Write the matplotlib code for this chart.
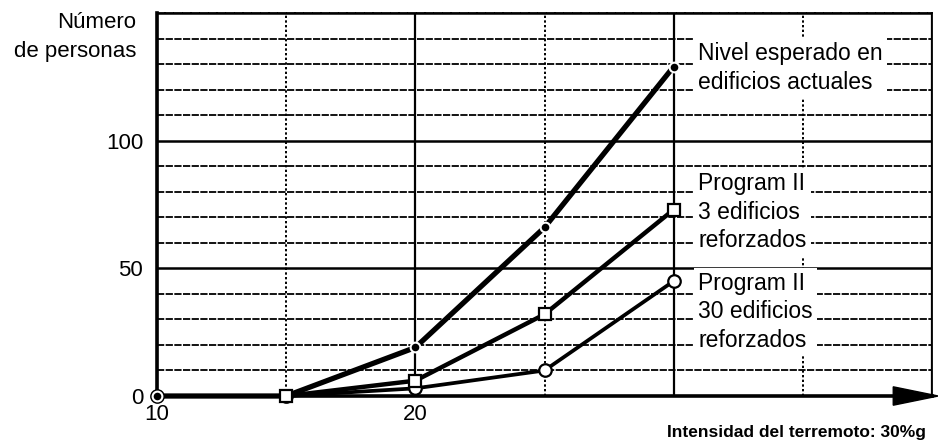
import matplotlib.pyplot as plt
from matplotlib.patches import Polygon

plt.rcParams['font.family'] = ['Liberation Sans', 'DejaVu Sans']

# Data
intensidad = [10, 15, 20, 25, 30]
nivel_actual = [0, 0, 19, 66, 129]
program_3 = [float('nan'), 0, 6, 32, 73]
program_30 = [0, 0, 3, 10, 45]

fig = plt.figure(figsize=(9.38, 4.45), dpi=100)
ax = fig.add_axes([0.1674, 0.1101, 0.8262, 0.8607])

ax.set_xlim(10, 39.75)
ax.set_ylim(0, 150)

# grid: solid majors, dotted minors
ax.set_xticks([10, 20, 30, 40])
ax.set_xticklabels(['10', '20', '', ''])
ax.set_xticks([15, 25, 35], minor=True)
ax.set_yticks([0, 50, 100, 150])
ax.set_yticklabels(['0', '50', '100', ''])
ax.set_yticks([10, 20, 30, 40, 60, 70, 80, 90, 110, 120, 130, 140], minor=True)
ax.tick_params(which='both', length=0, labelsize=16)
ax.tick_params(axis='x', pad=6)
ax.tick_params(axis='y', pad=10)

ax.grid(which='major', axis='x', color='black', lw=1.6, ls='-')
ax.grid(which='minor', axis='x', color='black', lw=1.4, ls=(0, (1.2, 1.2)))
ax.grid(which='major', axis='y', color='black', lw=1.8, ls='-')
ax.grid(which='minor', axis='y', color='black', lw=1.3, ls=(0, (4, 0.8)))
ax.set_axisbelow(True)

for s in ['top', 'right']:
    ax.spines[s].set_linewidth(1.3)
ax.spines['top'].set_linestyle((0, (4, 0.8)))
ax.spines['left'].set_linewidth(2.6)
ax.spines['bottom'].set_linewidth(2.6)

# series
ax.plot(intensidad, program_30, color='black', lw=2.7, marker='o', ms=9,
        mfc='white', mec='black', mew=1.6, zorder=4, clip_on=False)
ax.plot(intensidad, nivel_actual, color='black', lw=3.8, marker='o', ms=7,
        mfc='black', mec='white', mew=1.5, zorder=5, clip_on=False)
ax.plot(intensidad, program_3, color='black', lw=3.2, marker='s', ms=9,
        mfc='white', mec='black', mew=1.6, zorder=6, clip_on=False)

# arrow head at the end of the x axis
ax.add_patch(Polygon([[0.95, 0.024], [1.008, 0.0], [0.95, -0.024]],
                     closed=True, color='black', transform=ax.transAxes,
                     clip_on=False, zorder=7))

# series labels
box = dict(facecolor='white', edgecolor='none', pad=3)
ax.text(30.95, 128.5, 'Nivel esperado en\nedificios actuales', fontsize=16.5,
        va='center', ha='left', linespacing=1.3, bbox=box, zorder=3)
ax.text(30.95, 72, 'Program II\n3 edificios\nreforzados', fontsize=16.5,
        va='center', ha='left', linespacing=1.3, bbox=box, zorder=3)
ax.text(30.95, 33, 'Program II\n30 edificios\nreforzados', fontsize=16.5,
        va='center', ha='left', linespacing=1.3, bbox=box, zorder=3)

# axis titles
fig.text(136 / 938, 1 - 22 / 445, 'Número', fontsize=16, ha='right', va='center')
fig.text(136 / 938, 1 - 52 / 445, 'de personas', fontsize=16, ha='right', va='center')
fig.text(926 / 938, 1 - 433 / 445, 'Intensidad del terremoto: 30%g', fontsize=12.5,
         fontweight='bold', ha='right', va='center')

fig.savefig('out.png', dpi=100)
